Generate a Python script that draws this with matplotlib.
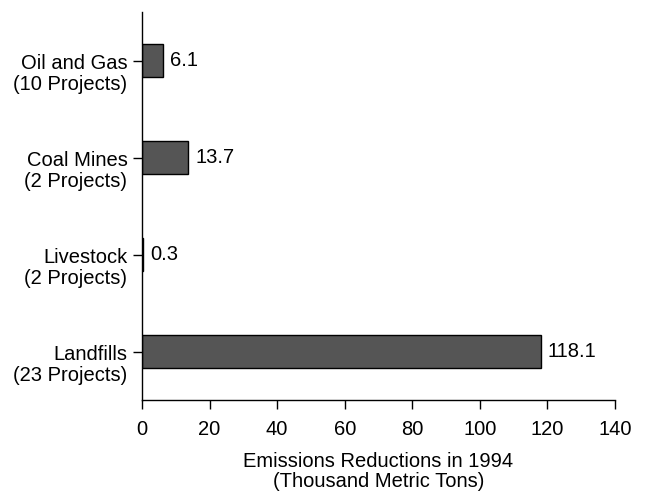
import matplotlib.pyplot as plt

plt.rcParams["font.family"] = ["Liberation Sans", "DejaVu Sans"]

# data, bottom to top
categories = ["Landfills", "Livestock", "Coal Mines", "Oil and Gas"]
project_labels = ["(23 Projects)", "(2 Projects)", "(2 Projects)", "(10 Projects)"]
reductions = [118.1, 0.3, 13.7, 6.1]
x_ticks = [0, 20, 40, 60, 80, 100, 120, 140]

FS = 14.5

fig = plt.figure(figsize=(6.46, 4.91), dpi=100)
ax = fig.add_axes([142 / 646, 1 - 400 / 491, (615 - 142) / 646, (400 - 12) / 491])

ypos = list(range(len(categories)))
ax.barh(ypos, reductions, height=0.35, color="#555555", edgecolor="black", linewidth=1.0)

for y, v in zip(ypos, reductions):
    ax.annotate("{}".format(v), xy=(v, y), xytext=(5, 0), textcoords="offset points",
                ha="left", va="center", fontsize=FS)

ax.set_xlim(0, 140)
ax.set_ylim(-0.5, 3.5)
ax.set_xticks(x_ticks)
ax.set_xticklabels([str(t) for t in x_ticks], fontsize=FS)
ax.set_yticks(ypos)
ax.set_yticklabels([])
ax.tick_params(axis="both", direction="out", length=6.5, width=1.0, color="black")
ax.tick_params(axis="x", pad=8)

# two-line category labels, first line level with the tick
for y, name, proj in zip(ypos, categories, project_labels):
    ax.annotate(name + "\n" + proj, xy=(0, y), xycoords=("axes fraction", "data"),
                xytext=(-10.5, 5), textcoords="offset points",
                ha="right", va="top", fontsize=FS, linespacing=1.15)

ax.spines["top"].set_visible(False)
ax.spines["right"].set_visible(False)
ax.spines["left"].set_linewidth(1.0)
ax.spines["bottom"].set_linewidth(1.0)

ax.set_xlabel("Emissions Reductions in 1994\n(Thousand Metric Tons)", fontsize=FS,
              linespacing=1.1, labelpad=9)

fig.savefig("out.png", dpi=100)
